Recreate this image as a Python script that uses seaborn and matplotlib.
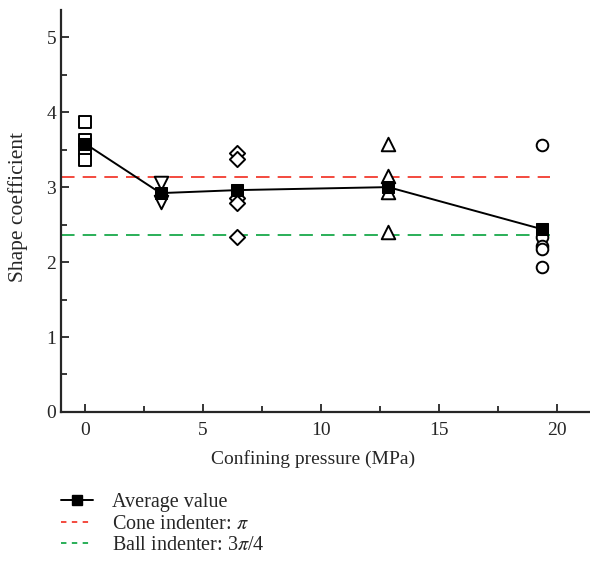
import numpy as np
import pandas as pd
import matplotlib
matplotlib.use("Agg")
import matplotlib.pyplot as plt
import seaborn as sns
from matplotlib.lines import Line2D
from matplotlib.ticker import MultipleLocator

# ---- data ----
pressures = [0.0, 3.2, 6.45, 12.85, 19.35]
markers = ["s", "v", "D", "^", "o"]
samples_0 = [3.87, 3.63, 3.50, 3.36]
samples_1 = [3.05, 2.80]
samples_2 = [3.45, 3.38, 2.85, 2.79, 2.34]
samples_3 = [3.57, 3.15, 2.93, 2.40]
samples_4 = [3.56, 2.33, 2.22, 2.18, 1.93]
avg_values = [3.58, 2.92, 2.96, 3.00, 2.44]
cone_value = np.pi
ball_value = 3 * np.pi / 4
legend_labels = ["Average value", r"Cone indenter: $\pi$", r"Ball indenter: 3$\pi$/4"]

sns.set_style("ticks")
plt.rcParams["font.family"] = ["Liberation Serif", "DejaVu Serif"]
plt.rcParams["mathtext.fontset"] = "stix"

fig = plt.figure(figsize=(5.9, 5.69), dpi=100)
ax = fig.add_axes([0.1034, 0.276, 0.8966, 0.706])

all_samples = [samples_0, samples_1, samples_2, samples_3, samples_4]
sizes = {"s": 70, "v": 95, "D": 60, "^": 95, "o": 70}
for p, vals, m in zip(pressures, all_samples, markers):
    df = pd.DataFrame({"x": [p] * len(vals), "y": vals})
    sns.scatterplot(data=df, x="x", y="y", marker=m, s=sizes[m], facecolor="white",
                    edgecolor="black", linewidth=1.4, ax=ax, zorder=3)

red = "#f23b2f"
green = "#19a94b"
xl0 = -1.02
ax.plot([xl0, 19.7], [cone_value, cone_value], color=red, lw=1.3, ls=(0, (7.5, 4.5)), zorder=2)
ax.plot([xl0, 19.7], [ball_value, ball_value], color=green, lw=1.3, ls=(0, (7.5, 4.5)), zorder=2)

avg_df = pd.DataFrame({"x": pressures, "y": avg_values})
sns.lineplot(data=avg_df, x="x", y="y", color="black", lw=1.4, marker="s",
             markersize=9, markerfacecolor="black", markeredgecolor="black", ax=ax, zorder=4)

ax.set_xlim(xl0, 21.4)
ax.set_ylim(0, 5.36)
ax.xaxis.set_major_locator(MultipleLocator(5))
ax.xaxis.set_minor_locator(MultipleLocator(2.5))
ax.yaxis.set_major_locator(MultipleLocator(1))
ax.yaxis.set_minor_locator(MultipleLocator(0.5))
ax.tick_params(which="both", direction="in", width=1.3, labelsize=14)
ax.tick_params(which="major", length=6)
ax.tick_params(which="minor", length=4)
ax.tick_params(axis="x", pad=7)
for s in ["top", "right"]:
    ax.spines[s].set_visible(False)
for s in ["left", "bottom"]:
    ax.spines[s].set_linewidth(1.6)
ax.set_xlabel("Confining pressure (MPa)", fontsize=14)
ax.xaxis.set_label_coords(0.476, -0.095)
ax.set_ylabel("Shape coefficient", fontsize=15.5)
ax.yaxis.set_label_coords(-0.062, 0.51)

handles = [
    Line2D([], [], color="black", lw=1.4, marker="s", markersize=7, markerfacecolor="black"),
    Line2D([], [], color=red, lw=1.3, ls=(0, (3, 3))),
    Line2D([], [], color=green, lw=1.3, ls=(0, (3, 3))),
]
fig.legend(handles, legend_labels, loc="center left", bbox_to_anchor=(0.073, 0.079),
           frameon=False, fontsize=14.5, handlelength=1.6, labelspacing=0.12, handletextpad=0.9)

fig.savefig("out.png", dpi=100)
